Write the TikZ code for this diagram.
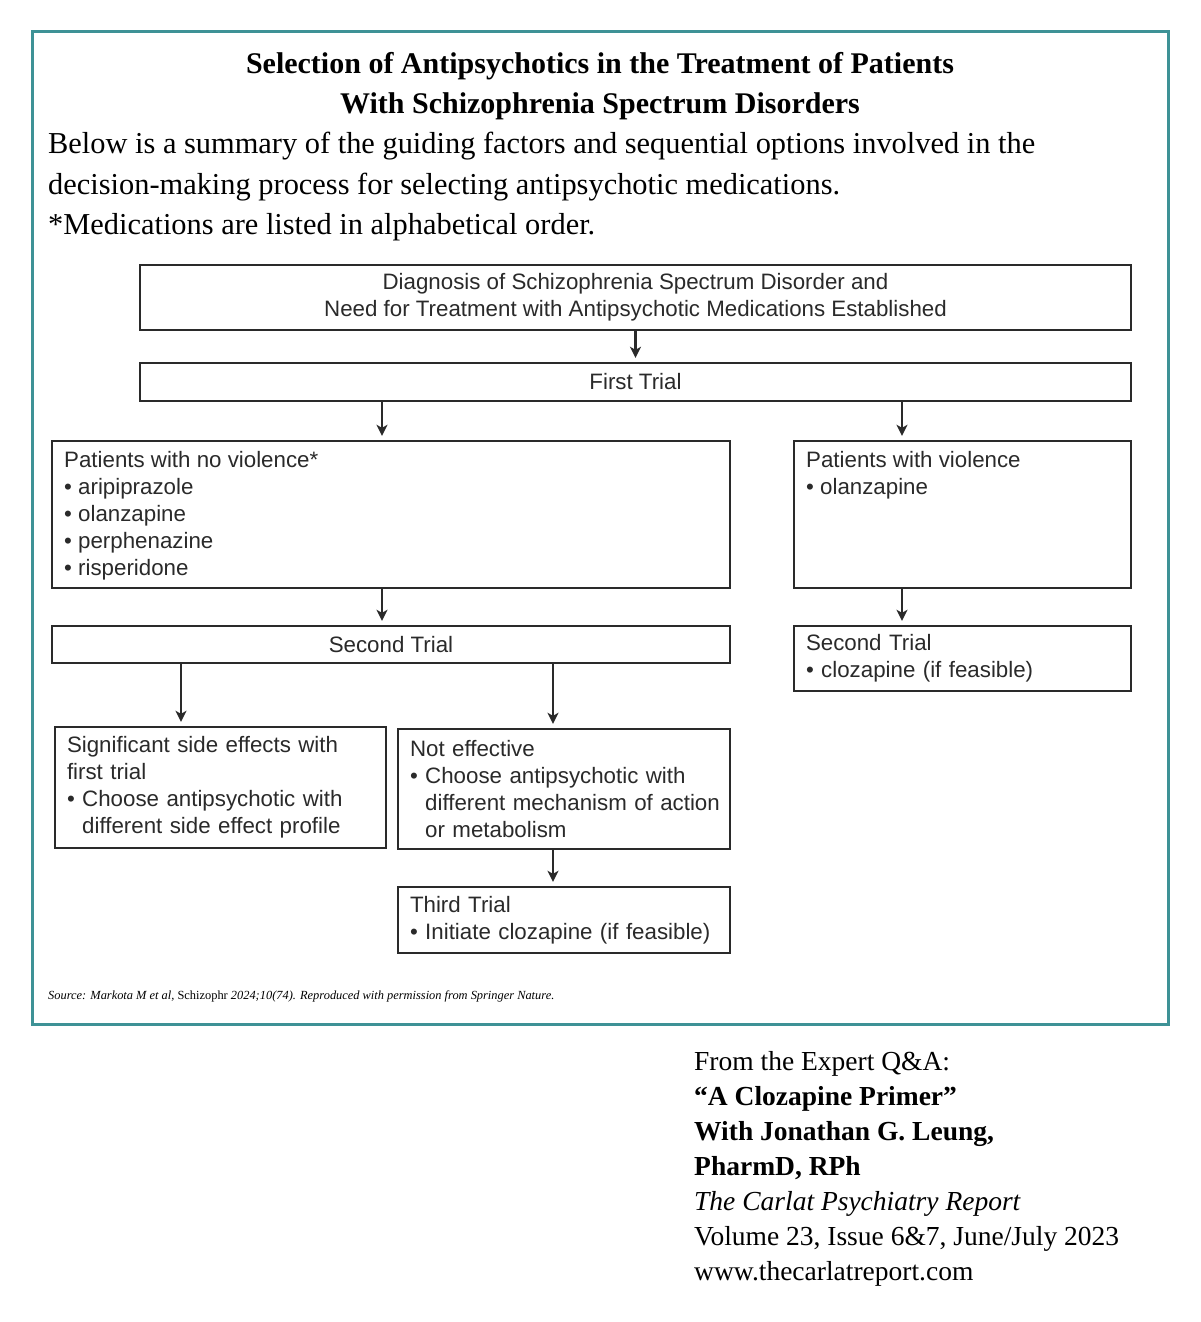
\documentclass[tikz,border=0pt]{standalone}
\usepackage{fontspec}
\setmainfont{Liberation Serif}
\newfontfamily\chartfont{Liberation Sans}
\usetikzlibrary{arrows.meta}
\definecolor{frameteal}{HTML}{3E9296}
\definecolor{ink}{HTML}{2A2A2A}
\begin{document}
\begin{tikzpicture}[x=1pt,y=-1pt,
  box/.style={draw=ink, line width=2.4pt, inner sep=0pt, text=ink,
    font=\chartfont\fontsize{22.3}{27}\selectfont},
  lbox/.style={box, align=left, inner xsep=12pt},
  txt/.style={inner sep=0pt, text=ink, align=left,
    font=\chartfont\fontsize{22.3}{27}\selectfont},
  arr/.style={draw=ink, line width=2.4pt, shorten >=4pt,
    -{Stealth[length=11pt,width=11pt,inset=3pt]}}
]
\useasboundingbox (0,0) rectangle (1200,1322);
\fill[white] (0,0) rectangle (1200,1322);
\draw[frameteal, line width=3pt] (32,32) rectangle (1168,1024);

% header
\node[inner sep=0pt, align=center, font=\bfseries\fontsize{30}{40}\selectfont] (title) at (600,86)
  {Selection of Antipsychotics in the Treatment of Patients\\With Schizophrenia Spectrum Disorders};
\node[inner sep=0pt, align=left, anchor=west, font=\fontsize{30.4}{40.5}\selectfont] (intro) at (48,187)
  {Below is a summary of the guiding factors and sequential options involved in the\\
   decision-making process for selecting antipsychotic medications.\\
   *Medications are listed in alphabetical order.};

% boxes
\node[box, minimum width=991pt, minimum height=65pt, align=center] (diag) at (635.5,297.5)
  {Diagnosis of Schizophrenia Spectrum Disorder and\\Need for Treatment with Antipsychotic Medications Established};
\node[box, minimum width=991pt, minimum height=38pt] (first) at (635.5,382) {First Trial};

\node[box, minimum width=678pt, minimum height=147pt] (nv) at (391,514.5) {};
\node[txt, anchor=north west] (nvt) at (64,451)
  {Patients with no violence*\\
   \textbullet\ aripiprazole\\
   \textbullet\ olanzapine\\
   \textbullet\ perphenazine\\
   \textbullet\ risperidone};
\node[box, minimum width=337pt, minimum height=147pt] (vi) at (962.5,514.5) {};
\node[txt, anchor=north west] (vit) at (806,451)
  {Patients with violence\\
   \textbullet\ olanzapine};

\node[box, minimum width=678pt, minimum height=37pt] (second) at (391,644.5) {Second Trial};
\node[lbox, minimum width=337pt, minimum height=65pt, text width=313pt] (secondr) at (962.5,658.5)
  {Second Trial\\
   \textbullet\ clozapine (if feasible)};

\node[lbox, minimum width=331pt, minimum height=121pt, text width=307pt] (side) at (220.5,787.5)
  {Significant side effects with\\
   first trial\\
   \mbox{\textbullet\ Choose antipsychotic with}\\
   \mbox{\phantom{\textbullet\ }different side effect profile}};
\node[lbox, minimum width=332pt, minimum height=120pt, text width=308pt] (noeff) at (564,789)
  {Not effective\\
   \mbox{\textbullet\ Choose antipsychotic with}\\
   \mbox{\phantom{\textbullet\ }different mechanism of action}\\
   \mbox{\phantom{\textbullet\ }or metabolism}};
\node[lbox, minimum width=332pt, minimum height=66pt, text width=308pt] (third) at (564,920)
  {Third Trial\\
   \mbox{\textbullet\ Initiate clozapine (if feasible)}};

% connector columns
\coordinate (cA) at (382,0);
\coordinate (cB) at (902,0);
\coordinate (cC) at (181,0);
\coordinate (cD) at (553,0);

\draw[arr] (diag.south -| first.north) -- (first.north);
\draw[arr] (first.south -| cA) -- (nv.north -| cA);
\draw[arr] (first.south -| cB) -- (vi.north -| cB);
\draw[arr] (nv.south -| cA) -- (second.north -| cA);
\draw[arr] (vi.south -| cB) -- (secondr.north -| cB);
\draw[arr] (second.south -| cC) -- (side.north -| cC);
\draw[arr] (second.south -| cD) -- (noeff.north -| cD);
\draw[arr] (noeff.south -| cD) -- (third.north -| cD);

% source
\node[inner sep=0pt, anchor=west, font=\fontsize{12.4}{15}\selectfont] (src) at (48,996)
  {\textit{Source: Markota M et al,} Schizophr \textit{2024;10(74). Reproduced with permission from Springer Nature.}};

% citation
\node[inner sep=0pt, anchor=north west, align=left, font=\fontsize{27.5}{35}\selectfont] (cite) at (694,1051)
  {From the Expert Q\&A:\\
   \textbf{``A Clozapine Primer''}\\
   \textbf{With Jonathan G. Leung,}\\
   \textbf{PharmD, RPh}\\
   \textit{The Carlat Psychiatry Report}\\
   Volume 23, Issue 6\&7, June/July 2023\\
   www.thecarlatreport.com};
\end{tikzpicture}
\end{document}
